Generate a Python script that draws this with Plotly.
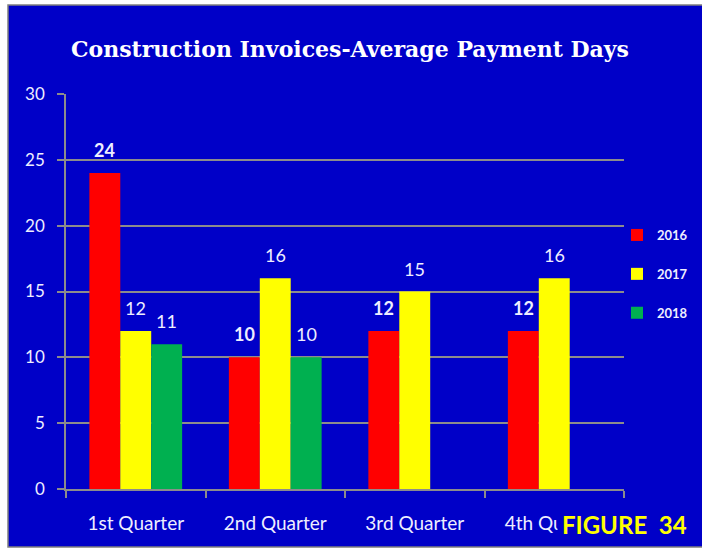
import plotly.graph_objects as go

categories = ["1st Quarter", "2nd Quarter", "3rd Quarter", "4th Quarter"]
series_names = ["2016", "2017", "2018"]
values_2016 = [24, 10, 12, 12]
values_2017 = [12, 16, 15, 16]
values_2018 = [11, 10, None, None]
colors = ["#FF0000", "#FFFF00", "#00B050"]
bold = [True, False, False]

BG = "#0000C8"
TXT = "#EEEEFF"
FONT = "Lato, 'Open Sans', sans-serif"
BARGAP = 0.335

fig = go.Figure()
all_series = [values_2016, values_2017, values_2018]
for name, vals, col in zip(series_names, all_series, colors):
    fig.add_trace(go.Bar(
        name=name, x=categories, y=vals, marker=dict(color=col, line=dict(width=0)),
        legendgroup=name,
    ))

# value labels above bars, positioned at each bar's slot in the group
bw = (1 - BARGAP) / len(series_names)
annotations = []
for i, (vals, b) in enumerate(zip(all_series, bold)):
    for j, v in enumerate(vals):
        if v is None:
            continue
        annotations.append(dict(
            x=j + (i - (len(series_names) - 1) / 2) * bw, y=v, xref="x", yref="y",
            text=(f"<b>{v}</b>" if b else str(v)), showarrow=False,
            xanchor="center", yanchor="middle", yshift=23,
            font=dict(family=FONT, size=18, color=TXT)))

W, H = 702, 550
L, R, T, B = 66, 78, 94, 61
pw, ph = W - L - R, H - T - B

def px2paper_x(px):
    return (px - L) / pw

def px2paper_y(py):
    return (H - B - py) / ph

annotations.append(dict(text="<b>FIGURE  34</b>", xref="paper", yref="paper",
                        x=px2paper_x(557), y=px2paper_y(524), xanchor="left", yanchor="middle",
                        showarrow=False, bgcolor=BG, borderpad=4,
                        font=dict(family=FONT, size=24, color="#FFFF00")))

fig.update_layout(
    width=W, height=H,
    margin=dict(l=L, r=R, t=T, b=B, autoexpand=False),
    paper_bgcolor="white", plot_bgcolor="rgba(0,0,0,0)",
    barmode="group", bargap=BARGAP, bargroupgap=0,
    title=dict(text="<b>Construction Invoices-Average Payment Days</b>",
               x=px2paper_x(350), xref="paper", xanchor="center",
               y=1 - 49 / H, yanchor="middle",
               font=dict(family="'DejaVu Serif', serif", size=22, color="white")),
    font=dict(family=FONT, color=TXT),
    showlegend=True,
    legend=dict(x=px2paper_x(617), y=px2paper_y(274), xanchor="left", yanchor="middle",
                bgcolor="rgba(0,0,0,0)", font=dict(size=13, color=TXT, family=FONT, weight="bold"),
                traceorder="grouped", tracegroupgap=19, itemwidth=30),
    xaxis=dict(type="category", showgrid=False, showline=True, linecolor="#8C8C8C", linewidth=1.5,
               ticks="outside", tickson="boundaries", ticklen=7, tickcolor="#8C8C8C", tickwidth=1.5,
               tickfont=dict(size=19, color=TXT, family=FONT), ticklabelstandoff=16,
               automargin=False),
    yaxis=dict(range=[0, 30], dtick=5, showgrid=True, gridcolor="#8C8C8C", gridwidth=1.5,
               showline=True, linecolor="#8C8C8C", linewidth=1.5, zeroline=False,
               ticks="outside", ticklen=7, tickcolor="#8C8C8C", tickwidth=1.5,
               tickfont=dict(size=17, color=TXT, family=FONT), ticklabelstandoff=9,
               automargin=False),
    shapes=[dict(type="rect", xref="paper", yref="paper", layer="below",
                 x0=px2paper_x(8), x1=px2paper_x(703), y0=px2paper_y(547), y1=px2paper_y(5),
                 fillcolor=BG, line=dict(color="#7F7F7F", width=1.5))],
    annotations=annotations,
)

fig.write_html("out.html", config={"displayModeBar": False},
               post_script="document.body.style.margin='0';")
